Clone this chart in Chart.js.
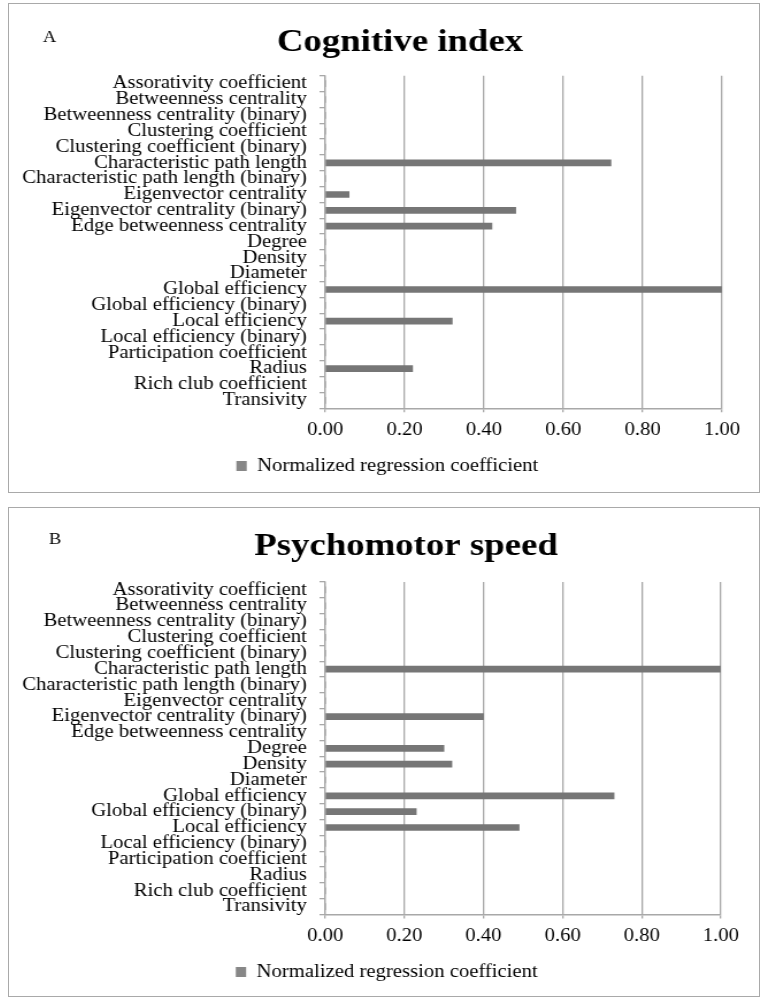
<!DOCTYPE html>
<html>
<head>
<meta charset="utf-8">
<title>Normalized regression coefficients</title>
<script src="https://cdn.jsdelivr.net/npm/chart.js@4.4.0/dist/chart.umd.min.js"></script>
<style>
    body { margin: 0; background: #fff; width: 767px; height: 1002px; position: relative; overflow: hidden; }
    .panel { position: absolute; left: 8px; width: 750px; height: 488px; border: 1px solid #a9a9a9; overflow: hidden; }
    #panel-a { top: 3px; }
    #panel-b { top: 507px; }
    /* the original figure is stretched sideways, so the canvas is too */
    .stretch { transform: scaleX(1.15); transform-origin: 0 0; width: 652px; height: 488px; }
</style>
</head>
<body>
<div class="panel" id="panel-a"><div class="stretch"><canvas id="chart-a" width="652" height="488"></canvas></div></div>
<div class="panel" id="panel-b"><div class="stretch"><canvas id="chart-b" width="652" height="488"></canvas></div></div>
<script>
var categories = [
    'Assorativity coefficient',
    'Betweenness centrality',
    'Betweenness centrality (binary)',
    'Clustering coefficient',
    'Clustering coefficient (binary)',
    'Characteristic path length',
    'Characteristic path length (binary)',
    'Eigenvector centrality',
    'Eigenvector centrality (binary)',
    'Edge betweenness centrality',
    'Degree',
    'Density',
    'Diameter',
    'Global efficiency',
    'Global efficiency (binary)',
    'Local efficiency',
    'Local efficiency (binary)',
    'Participation coefficient',
    'Radius',
    'Rich club coefficient',
    'Transivity'
];
var cognitiveValues = [0, 0, 0, 0, 0, 0.72, 0, 0.06, 0.48, 0.42, 0, 0, 0, 1.00, 0, 0.32, 0, 0, 0.22, 0, 0];
var psychomotorValues = [0, 0, 0, 0, 0, 1.00, 0, 0, 0.40, 0, 0.30, 0.32, 0, 0.73, 0.23, 0.49, 0, 0, 0, 0, 0];
var xTicks = [0, 0.2, 0.4, 0.6, 0.8, 1.0];
var seriesLabel = 'Normalized regression coefficient';

var FONT = '"Liberation Serif", "Times New Roman", serif';
var BAR_GREY = '#767676';
var GRID_GREY = '#a8a8a8';

// panel letter and big bold title, drawn where the original puts them
var panelText = {
    id: 'panelText',
    afterLayout: function(chart, args, opts) {
        // the legend sits a little right of centre in the original
        chart.legend.left += opts.legendShift;
        chart.legend.right += opts.legendShift;
    },
    afterDraw: function(chart, args, opts) {
        var ctx = chart.ctx;
        ctx.save();
        ctx.fillStyle = '#000';
        ctx.textBaseline = 'alphabetic';
        ctx.textAlign = 'center';
        ctx.font = 'bold 32px ' + FONT;
        ctx.fillText(opts.title, opts.titleX, opts.titleY);
        ctx.textAlign = 'left';
        ctx.font = '16px ' + FONT;
        ctx.fillText(opts.tag, opts.tagX, opts.tagY);
        ctx.restore();
    }
};

function makeChart(canvasId, values, text, box) {
    var ctx = document.getElementById(canvasId).getContext('2d');
    return new Chart(ctx, {
        type: 'bar',
        data: {
            labels: categories,
            datasets: [
                {
                    label: seriesLabel,
                    data: values,
                    backgroundColor: BAR_GREY,
                    borderWidth: 0,
                    barThickness: 6
                }
            ]
        },
        options: {
            indexAxis: 'y',
            responsive: false,
            animation: false,
            layout: {
                padding: { top: box.top, right: box.right, bottom: box.bottom, left: 0 }
            },
            scales: {
                x: {
                    min: 0,
                    max: 1,
                    afterBuildTicks: function(scale) {
                        scale.ticks = xTicks.map(function(v) { return { value: v }; });
                    },
                    afterFit: function(scale) { scale.height = box.xHeight; },
                    ticks: {
                        color: '#000',
                        font: { family: FONT, size: 18 },
                        padding: 7,
                        callback: function(v) { return Number(v).toFixed(2); }
                    },
                    grid: { color: GRID_GREY, lineWidth: 1.3, tickLength: 4, drawTicks: true },
                    border: { color: GRID_GREY, width: 1.5 }
                },
                y: {
                    afterFit: function(scale) { scale.width = 275; },
                    ticks: {
                        color: '#000',
                        font: { family: FONT, size: 18 },
                        padding: 11,
                        autoSkip: false
                    },
                    grid: { drawOnChartArea: false, drawTicks: true, tickLength: 5, color: GRID_GREY, lineWidth: 1.3, offset: true },
                    border: { color: GRID_GREY, width: 1.3 }
                }
            },
            plugins: {
                legend: {
                    position: 'bottom',
                    labels: {
                        color: '#000',
                        font: { family: FONT, size: 18 },
                        boxWidth: 9,
                        boxHeight: 10,
                        padding: 10,
                        generateLabels: function(chart) {
                            return [{
                                text: seriesLabel,
                                fillStyle: '#878787',
                                strokeStyle: '#878787',
                                lineWidth: 0,
                                datasetIndex: 0,
                                fontColor: '#000'
                            }];
                        }
                    }
                },
                title: { display: false },
                tooltip: { enabled: false },
                panelText: text
            }
        },
        plugins: [panelText]
    });
}

makeChart('chart-a', cognitiveValues,
    { title: 'Cognitive index', titleX: 340, titleY: 47, tag: 'A', tagX: 29.6, tagY: 38, legendShift: 19 },
    { top: 71.7, right: 32, bottom: 7, xHeight: 38.7 });

makeChart('chart-b', psychomotorValues,
    { title: 'Psychomotor speed', titleX: 345.2, titleY: 47, tag: 'B', tagX: 34.8, tagY: 36, legendShift: 19 },
    { top: 74, right: 33, bottom: 5, xHeight: 38.4 });
</script>
</body>
</html>
